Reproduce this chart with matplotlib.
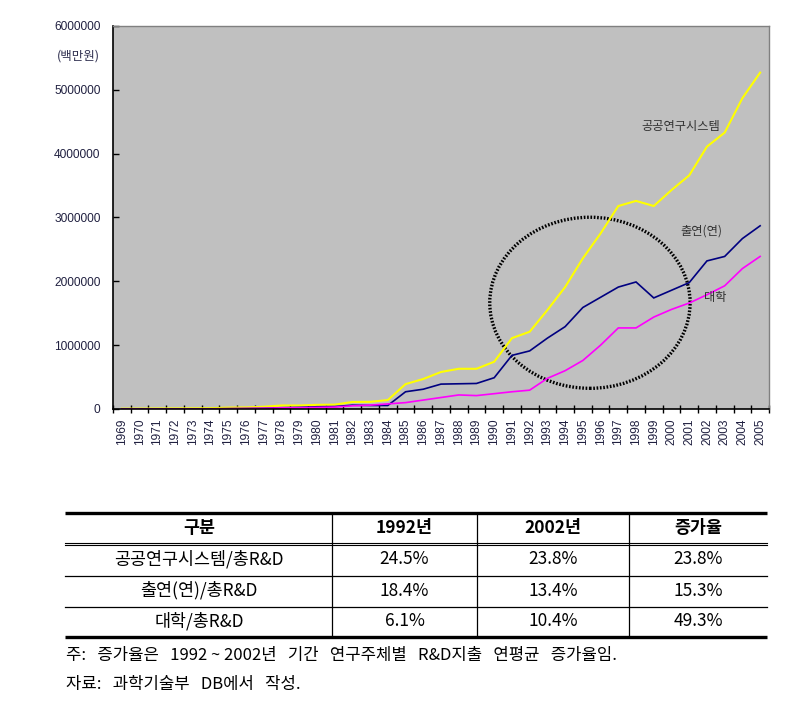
import matplotlib
matplotlib.use('Agg')
import matplotlib.pyplot as plt
from matplotlib.patches import Ellipse

# ---------------- data ----------------
years = list(range(1969, 2006))

public_system = [5000, 6000, 8000, 9000, 10000, 12000, 22000, 25000, 35000, 55000,
                 55000, 65000, 68000, 110000, 112000, 140000, 390000, 470000, 580000, 630000,
                 630000, 740000, 1110000, 1210000, 1550000, 1910000, 2360000, 2750000, 3180000, 3260000,
                 3180000, 3430000, 3660000, 4110000, 4330000, 4870000, 5270000]

gri = [1000, 1000, 1500, 2000, 2500, 3000, 5000, 7000, 10000, 20000,
       25000, 35000, 38000, 60000, 55000, 55000, 270000, 310000, 390000, 395000,
       400000, 490000, 840000, 910000, 1110000, 1290000, 1590000, 1750000, 1910000, 1990000,
       1740000, 1860000, 1980000, 2320000, 2390000, 2670000, 2870000]

university = [500, 500, 600, 700, 800, 1000, 5000, 8000, 12000, 18000,
              20000, 25000, 30000, 50000, 60000, 80000, 100000, 140000, 180000, 220000,
              210000, 240000, 270000, 295000, 480000, 600000, 760000, 1000000, 1270000, 1270000,
              1440000, 1560000, 1660000, 1790000, 1930000, 2200000, 2390000]

series_labels = ['공공연구시스템', '출연(연)', '대학']
series_colors = ['#FFFF00', '#000080', '#FF00FF']

y_ticks = [0, 1000000, 2000000, 3000000, 4000000, 5000000, 6000000]
unit_label = '(백만원)'

table_header = ['구분', '1992년', '2002년', '증가율']
table_rows = ['공공연구시스템/총R&D', '출연(연)/총R&D', '대학/총R&D']
share_1992 = ['24.5%', '18.4%', '6.1%']
share_2002 = ['23.8%', '13.4%', '10.4%']
growth_rate = ['23.8%', '15.3%', '49.3%']

note_lines = ['주:   증가율은   1992 ~ 2002년   기간   연구주체별   R&D지출   연평균   증가율임.',
              '자료:   과학기술부   DB에서   작성.']

# ---------------- figure ----------------
KR = ['Noto Sans CJK KR', 'DejaVu Sans']
NUM = ['Liberation Sans', 'Noto Sans CJK KR']
plt.rcParams['font.family'] = KR

W, H = 803, 718
fig = plt.figure(figsize=(W / 100, H / 100), dpi=100)

L, R, T, B = 113, 769, 26, 409
ax = fig.add_axes([L / W, 1 - B / H, (R - L) / W, (B - T) / H])
ax.set_facecolor('#C0C0C0')

x = list(range(len(years)))
for vals, col, lw in zip([public_system, gri, university], series_colors, [1.5, 1.2, 1.2]):
    ax.plot(x, vals, color=col, lw=lw, solid_joinstyle='miter')

ax.set_xlim(-0.5, len(years) - 0.5)
ax.set_ylim(0, 6000000)

ax.set_yticks(y_ticks)
ax.set_yticklabels([str(v) for v in y_ticks], family=NUM, fontsize=8.6, color='#202040')
ax.tick_params(axis='y', direction='in', length=4, width=1, pad=9)

ax.set_xticks(x)
ax.set_xticklabels([str(y) for y in years], rotation=90, family=NUM, fontsize=8.6,
                   color='#202040')
ax.tick_params(axis='x', which='major', length=0, pad=7)
ax.set_xticks([i - 0.5 for i in range(len(years) + 1)], minor=True)
ax.tick_params(axis='x', which='minor', direction='inout', length=6, width=1)

for s in ['left', 'bottom']:
    ax.spines[s].set_color('black')
    ax.spines[s].set_linewidth(1.2)
for s in ['top', 'right']:
    ax.spines[s].set_color('#808080')
    ax.spines[s].set_linewidth(1.0)

# highlighted region (dotted ellipse)
ell_year, ell_width_years = 1995.4, 11.3
ell_value, ell_height_value = 1664000, 2680000
ax.add_patch(Ellipse((ell_year - years[0], ell_value), ell_width_years, ell_height_value,
                     fill=False, edgecolor='black', lw=2.4, linestyle=(0, (0.5, 0.5))))

# series labels
label_pos = [(2000.5, 4430000), (2001.66, 2780000), (2002.47, 1750000)]
for (yr, v), txt in zip(label_pos, series_labels):
    ax.text(yr - years[0], v, txt, ha='center', va='center', fontsize=8.8, color='#333333')

fig.text(78 / W, 1 - 56 / H, unit_label, ha='center', va='center', fontsize=9,
         color='#303050')

# ---------------- table (overlay in pixel coords) ----------------
ov = fig.add_axes([0, 0, 1, 1], zorder=-1)
ov.set_xlim(0, W)
ov.set_ylim(H, 0)
ov.axis('off')

tl, tr = 65, 767
col_edges = [tl, 332, 477, 629, tr]
top_y, hdr_y1, hdr_y2, bot_y = 513, 542.5, 545, 637
row_lines = [575.5, 606.5]

ov.plot([tl, tr], [top_y, top_y], color='black', lw=2.4, solid_capstyle='butt')
ov.plot([tl, tr], [hdr_y1, hdr_y1], color='black', lw=0.8)
ov.plot([tl, tr], [hdr_y2, hdr_y2], color='black', lw=0.8)
for ry in row_lines:
    ov.plot([tl, tr], [ry, ry], color='black', lw=0.9)
ov.plot([tl, tr], [bot_y, bot_y], color='black', lw=2.4, solid_capstyle='butt')
for cx in col_edges[1:-1]:
    ov.plot([cx, cx], [top_y, bot_y], color='black', lw=0.9)

centers = [(col_edges[i] + col_edges[i + 1]) / 2 for i in range(4)]
centers[0] = 199
for c, txt in zip(centers, table_header):
    ov.text(c, 528, txt, ha='center', va='center', fontsize=12.5, fontweight='bold',
            color='black')
row_y = [559.5, 590.5, 621.5]
for i, ry in enumerate(row_y):
    cells = [table_rows[i], share_1992[i], share_2002[i], growth_rate[i]]
    for c, txt in zip(centers, cells):
        ov.text(c, ry, txt, ha='center', va='center', fontsize=12.5, color='black')

for ny, txt in zip([655.5, 684.5], note_lines):
    ov.text(66, ny, txt, ha='left', va='center', fontsize=12, color='black')

fig.savefig('out.png', dpi=100)
